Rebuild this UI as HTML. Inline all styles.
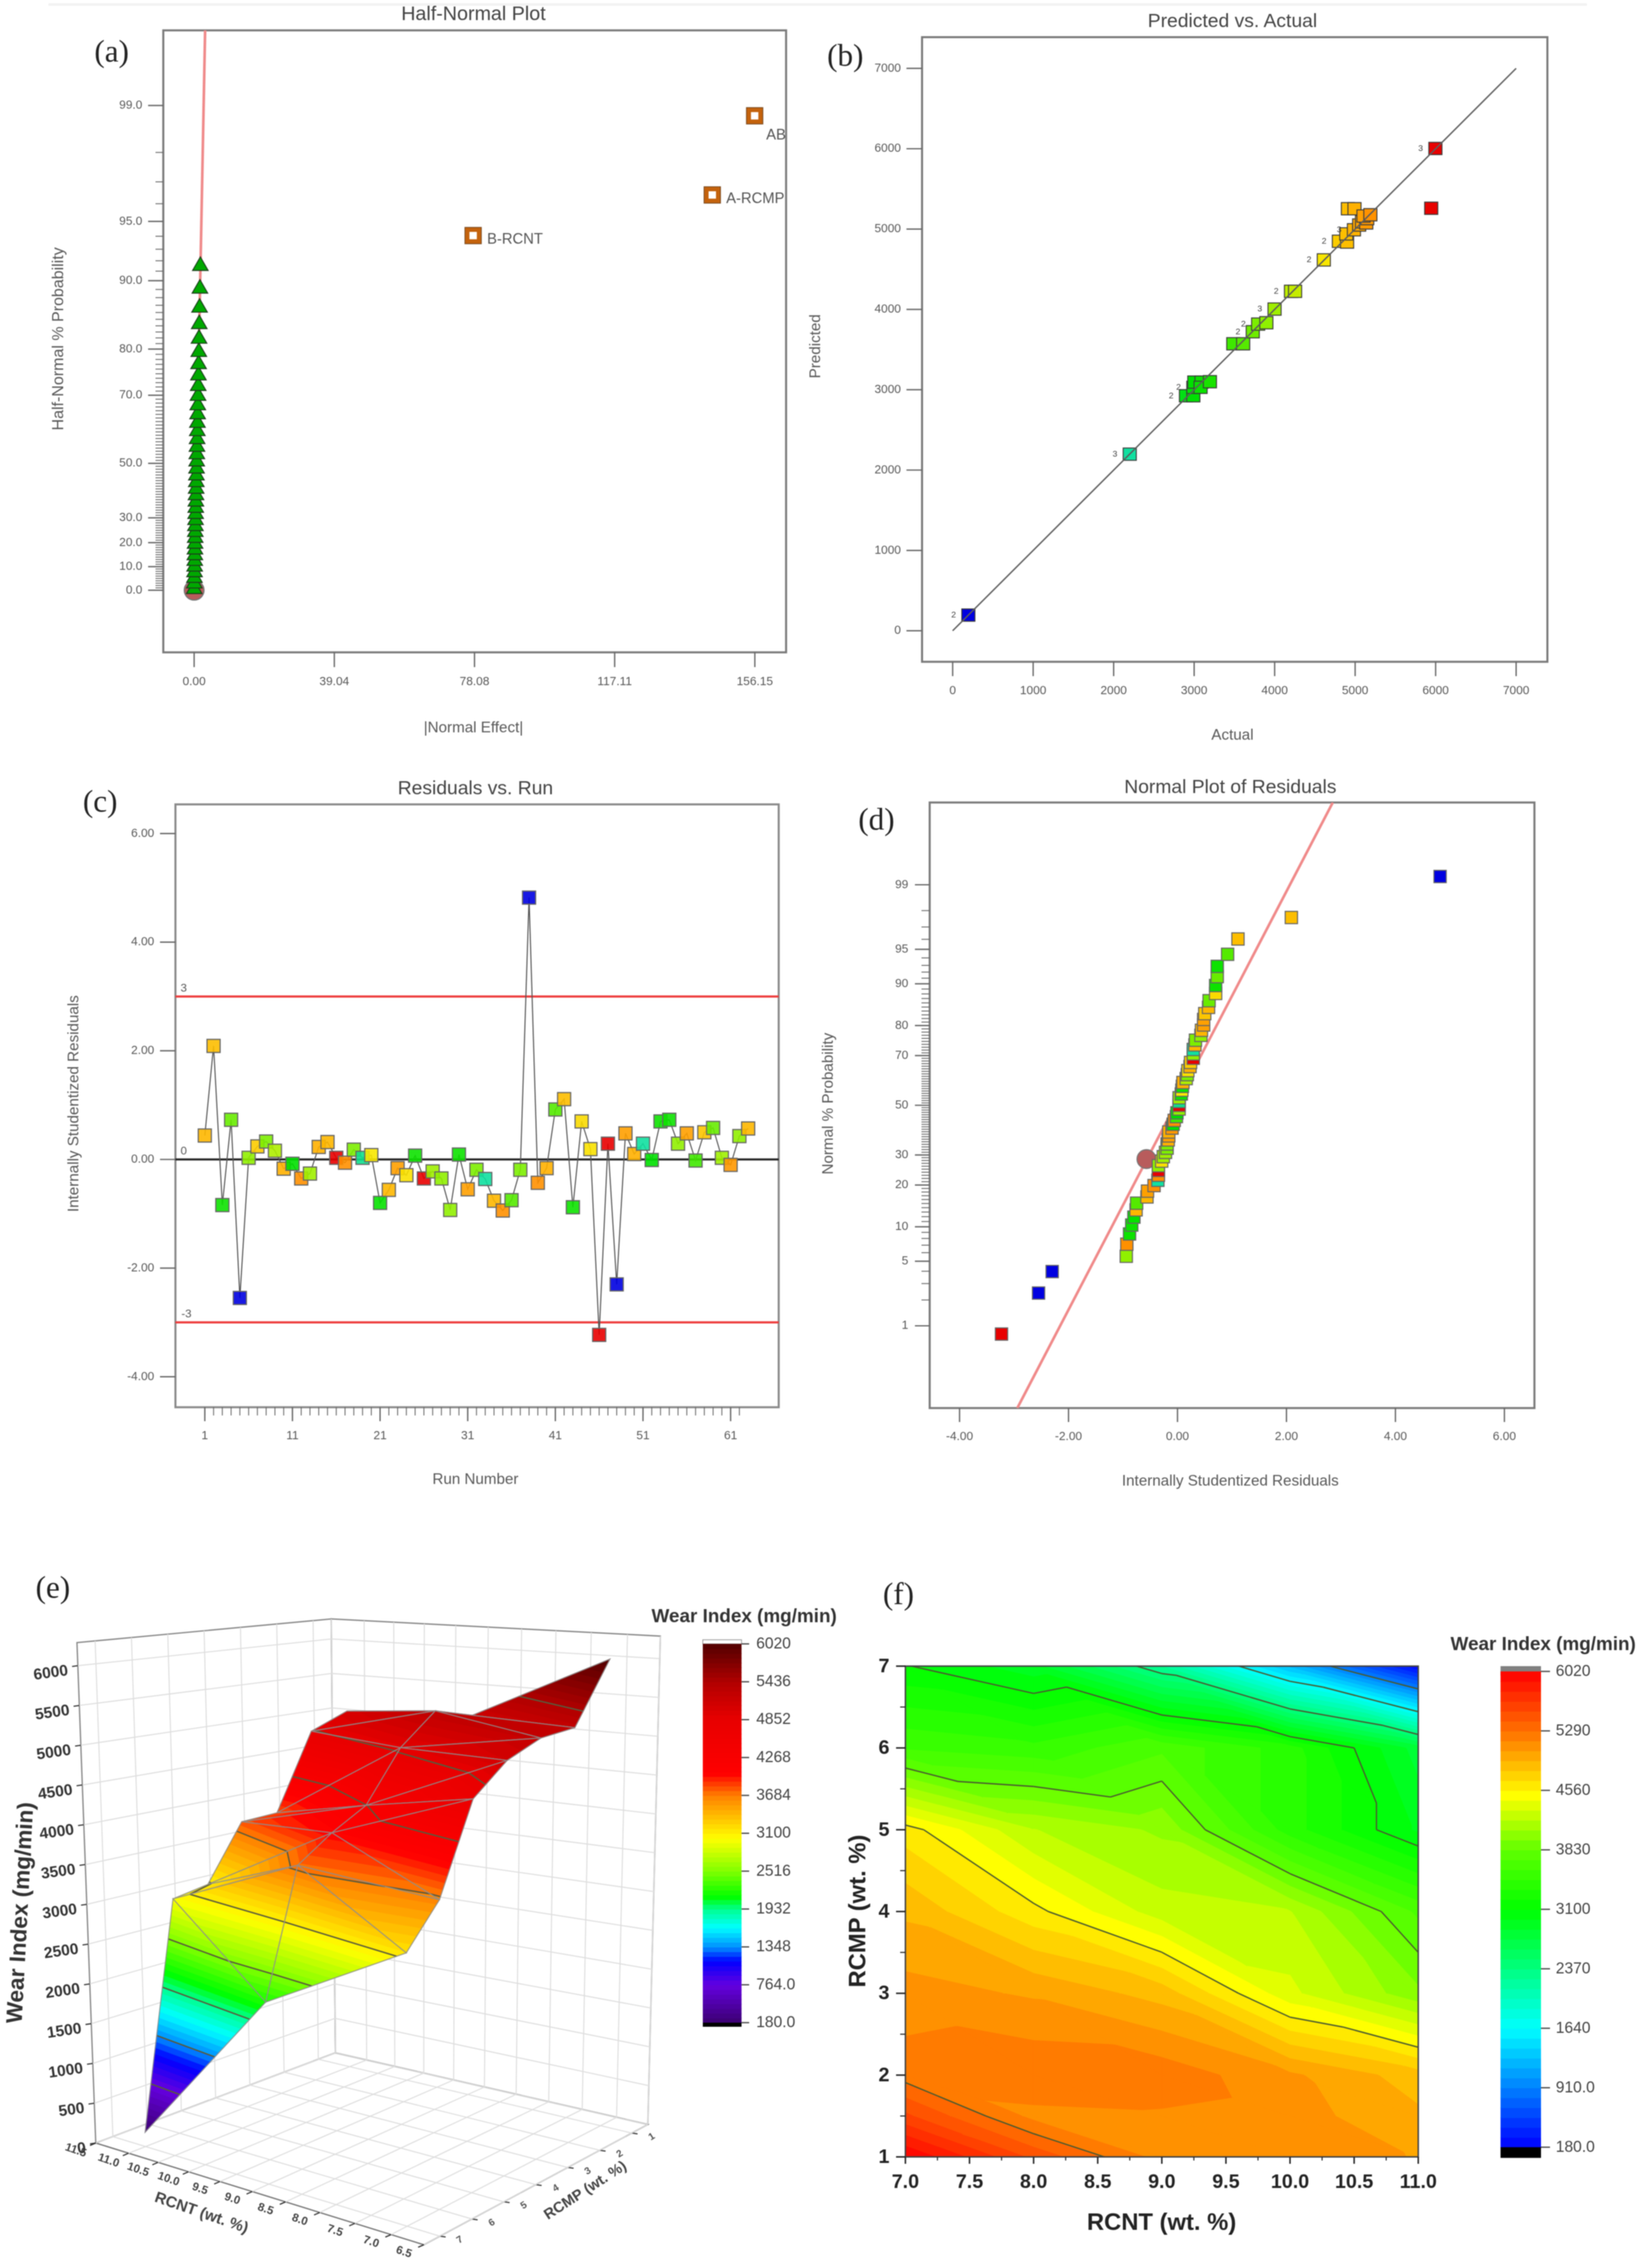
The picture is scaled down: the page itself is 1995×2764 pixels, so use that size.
<!DOCTYPE html>
<html lang="en">
<head>
<meta charset="utf-8">
<title>Wear Index Design-of-Experiments Diagnostics</title>
<style>
html,body{margin:0;padding:0;background:#fff;}
body{width:1995px;height:2764px;overflow:hidden;}
svg{display:block;filter:blur(0.55px);font-family:"Liberation Sans",sans-serif;}
</style>
</head>
<body>
<svg id="figure" xmlns="http://www.w3.org/2000/svg" width="1995" height="2764" viewBox="0 0 1995 2764">
  <defs>
    <clipPath id="clip-a"><rect x="199" y="37" width="759" height="758"/></clipPath>
    <clipPath id="clip-d"><rect x="1133" y="978" width="737" height="738"/></clipPath>
    <clipPath id="clip-f"><rect x="1103.4" y="2030.5" width="625" height="598.1"/></clipPath>
  </defs>
  <rect x="59" y="4" width="1875" height="3" fill="#f2f2f2"/>
  <g id="panel-a"></g>
  <g id="panel-b"></g>
  <g id="panel-c"></g>
  <g id="panel-d"></g>
  <g id="panel-e"></g>
  <g id="panel-f"></g>
</svg>
<script>
/* ---------- panel (a) data ---------- */
const aTickValues=[0,39.04,78.08,117.11,156.15];
const aProbTicks=[0,10,20,30,50,70,80,90,95,99];
const aErrorEffects=[0.02,0.05,0.08,0.11,0.14,0.17,0.20,0.23,0.26,0.29,0.32,0.35,0.39,0.42,0.45,0.49,0.52,0.56,0.60,0.63,0.67,0.71,0.75,0.79,0.83,0.88,0.92,0.97,1.02,1.08,1.13,1.19,1.24,1.30,1.36,1.42,1.51,1.61,1.73];
const aErrorProbs=[1.19,3.57,5.95,8.33,10.71,13.10,15.48,17.86,20.24,22.62,25.00,27.38,29.76,32.14,34.52,36.90,39.29,41.67,44.05,46.43,48.81,51.19,53.57,55.95,58.33,60.71,63.10,65.48,67.86,70.24,72.62,75.00,77.38,79.76,82.14,84.52,86.90,89.29,91.67];
const aTermNames=["B-RCNT","A-RCMP","AB"];
const aTermEffects=[77.7,144.3,156.1];
const aTermProbs=[94.05,96.43,98.83];
const aLineEffects=[0,3.06];
const aLineProbs=[0,99.71];

/* ---------- panel (b) data ---------- */
const bTicks=[0,1000,2000,3000,4000,5000,6000,7000];
const bActual=[195,2200,2898,2990,2990,3002,3092,3080,3196,3486,3609,3728,3795,3897,3999,4203,4254,4611,4798,4900,4890,4985,4910,4992,5050,5085,5138,5150,5104,5189,5945,5997];
const bPredicted=[195,2198,2925,2925,3030,3095,3095,3030,3100,3572,3572,3722,3817,3834,4004,4225,4225,4616,4848,4838,4940,4991,5253,5253,5050,5090,5076,5130,5162,5178,5259,6003];
const bCounts=[2,3,2,0,2,0,0,0,0,0,0,2,2,0,3,2,0,2,2,0,0,3,0,0,0,0,0,0,0,0,0,3];

/* ---------- panel (c) data ---------- */
const cRunTicks=[1,11,21,31,41,51,61];
const cResidualTicks=[6,4,2,0,-2,-4];
const cResiduals=[0.44,2.09,-0.84,0.73,-2.55,0.03,0.24,0.33,0.16,-0.17,-0.08,-0.35,-0.26,0.23,0.32,0.03,-0.06,0.18,0.03,0.08,-0.80,-0.56,-0.16,-0.29,0.07,-0.35,-0.22,-0.35,-0.93,0.09,-0.55,-0.19,-0.36,-0.76,-0.94,-0.75,-0.19,4.82,-0.43,-0.16,0.92,1.11,-0.88,0.70,0.19,-3.23,0.29,-2.30,0.48,0.10,0.29,-0.01,0.70,0.73,0.29,0.48,-0.02,0.50,0.58,0.03,-0.10,0.43,0.57];
const cResponse=[4950,4900,3100,3700,195,3900,4800,3800,4100,5000,3000,5200,4000,5000,4950,6000,5200,3800,2300,4600,3050,4950,5100,4650,3100,5950,4000,3900,3900,3100,5100,3800,2200,4950,5200,3600,3800,195,5200,5000,3600,4900,3100,4700,4650,5950,6000,195,5100,5000,2200,3000,3100,3100,3900,5100,3500,4850,3700,4000,5150,3900,4950];
const cLimits=[3,-3];

/* ---------- panel (d) data ---------- */
const dXTicks=[-4,-2,0,2,4,6];
const dProbTicks=[1,5,10,20,30,50,70,80,90,95,99];
const dResiduals=[-3.23,-2.55,-2.30,-0.94,-0.93,-0.88,-0.84,-0.80,-0.76,-0.75,-0.56,-0.55,-0.43,-0.36,-0.35,-0.35,-0.35,-0.29,-0.26,-0.22,-0.19,-0.19,-0.17,-0.16,-0.16,-0.10,-0.08,-0.06,-0.02,-0.01,0.03,0.03,0.03,0.03,0.07,0.08,0.09,0.10,0.16,0.18,0.19,0.23,0.24,0.29,0.29,0.29,0.32,0.33,0.43,0.44,0.48,0.48,0.50,0.57,0.58,0.70,0.70,0.73,0.73,0.92,1.11,2.09,4.82];
const dProbs=[0.79,2.38,3.97,5.56,7.14,8.73,10.32,11.90,13.49,15.08,16.67,18.25,19.84,21.43,23.02,24.60,26.19,27.78,29.37,30.95,32.54,34.13,35.71,37.30,38.89,40.48,42.06,43.65,45.24,46.83,48.41,50.00,51.59,53.17,54.76,56.35,57.94,59.52,61.11,62.70,64.29,65.87,67.46,69.05,70.63,72.22,73.81,75.40,76.98,78.57,80.16,81.75,83.33,84.92,86.51,88.10,89.68,91.27,92.86,94.44,96.03,97.62,99.21];
const dResponse=[5950,195,195,3900,5200,3100,3100,3050,4950,3600,4950,5100,5200,2200,5200,5950,3900,4650,4000,4000,3800,3800,5000,5100,5000,5150,3000,5200,3500,3000,3900,6000,2300,4000,3100,4600,3100,5000,4100,3800,4650,5000,4800,6000,3900,2200,4950,3800,3900,4950,5100,5100,4850,4950,3700,4700,3100,3700,3100,3600,4900,4900,195];
const dLineResiduals=[-2.94,2.85];
const dLineProbs=[0.07,99.93];
const dCentroidResidual=[-0.57];
const dCentroidProb=[28.5];

/* ---------- panel (e) data: wear index by RCMP 1..7, one row per RCNT ---------- */
const eRCNT=[7,9,11];
const eRCMP=[1,2,3,4,5,6,7];
const eWear7=[6020,5252,5236,5073,4723,3651,3167];
const eWear9=[5122,5290,4902,4264,4028,3737,2198];
const eWear11=[5036,4837,3811,3793,3074,3000,180];
const eZTicks=[0,500,1000,1500,2000,2500,3000,3500,4000,4500,5000,5500,6000];
const eRCNTTicks=[6.5,7,7.5,8,8.5,9,9.5,10,10.5,11,11.5];
const eRCMPTicks=[1,2,3,4,5,6,7];
const eBarTicks=[6020,5436,4852,4268,3684,3100,2516,1932,1348,764,180];
const eBarLabels=["6020","5436","4852","4268","3684","3100","2516","1932","1348","764.0","180.0"];

/* ---------- panel (f) data: wear index by RCMP, one row per RCNT ---------- */
const fRCNT=[7,8,9,10,11];
const fRCMP=[1,1.5,2,3,4,5,6,7];
const fWear7=[6020,5560,5230,5100,4900,4620,3573,3110];
const fWear8=[5500,5130,5270,5030,4600,4200,3500,2900];
const fWear9=[5120,5150,5250,4873,4250,4050,3680,2240];
const fWear10=[5110,5100,5070,4350,4200,3400,3400,1240];
const fWear11=[5040,4950,4860,3980,3680,2955,2800,180];
const fXTicks=[7,7.5,8,8.5,9,9.5,10,10.5,11];
const fYTicks=[1,2,3,4,5,6,7];
const fBarTicks=[6020,5290,4560,3830,3100,2370,1640,910,180];
const fBarLabels=["6020","5290","4560","3830","3100","2370","1640","910.0","180.0"];

/* ---------- helpers ---------- */
const NS="http://www.w3.org/2000/svg";
function draw(parent,tag,attrs,name,text){
  const el=document.createElementNS(NS,tag);
  for(const k in attrs) el.setAttribute(k,attrs[k]);
  
  
  if(text!==undefined) el.textContent=text;
  parent.appendChild(el);
  return el;
}
function line(p,x1,y1,x2,y2,stroke,w,name){return draw(p,'line',{x1,y1,x2,y2,stroke,'stroke-width':w},name);}
function label(p,x,y,str,size,fill,anchor,name,extra){
  const a=Object.assign({x,y,'font-size':size,fill,'text-anchor':anchor||'middle','dominant-baseline':'central'},extra||{});
  return draw(p,'text',a,name,str);
}
function panelTag(p,x,y,str){
  return label(p,x,y,str,38,'#222','start','panel-label',{'font-family':'"Liberation Serif",serif'});
}
function probit(q){
  const s=q<0.5?q:1-q;
  const t=Math.sqrt(-2*Math.log(s));
  const z=t-(2.515517+0.802853*t+0.010328*t*t)/(1+1.432788*t+0.189269*t*t+0.001308*t*t*t);
  return q<0.5?-z:z;
}
function hex(c){return [parseInt(c.slice(1,3),16),parseInt(c.slice(3,5),16),parseInt(c.slice(5,7),16)];}
function ramp(levels,colors,v){
  if(v<=levels[0]) return colors[0];
  for(let i=1;i<levels.length;i++){
    if(v<=levels[i]){
      const t=(v-levels[i-1])/(levels[i]-levels[i-1]);
      const a=hex(colors[i-1]),b=hex(colors[i]);
      return 'rgb('+a.map((c,j)=>Math.round(c+(b[j]-c)*t)).join(',')+')';
    }
  }
  return colors[colors.length-1];
}
const markerStops=[195,1500,2200,3000,3500,3900,4600,5000,5200,5950];
const markerColors=['#0000e0','#0090f0','#10e0a0','#00e000','#40e800','#90f000','#f8e800','#ffb000','#ff9000','#e80000'];
function markerColor(v){return ramp(markerStops,markerColors,v);}
const eStops=[180,764,1130,1348,1650,1932,2120,2516,3020,3684,4020,4852,5436,6020];
const eColors=['#3c0070','#6400e0','#0000ff','#0090ff','#00ffff','#00ff90','#00ff00','#80ff00','#ffff00','#ff8000','#ff0000','#e80000','#b00000','#520000'];
function eColor(v){return ramp(eStops,eColors,v);}
const fStops=[180,910,1640,2370,3100,3830,4500,5290,6020];
const fColors=['#0000ff','#0080ff','#00ffff','#00ff80','#00ff00','#60ff00','#ffff00','#ff7000','#ff0000'];
function fColor(v){return ramp(fStops,fColors,v);}

/* clip a polygon of {x,y,z} against z>=level (sign 1) or z<=level (sign -1) */
function clipZ(poly,level,sign){
  const out=[];
  for(let i=0;i<poly.length;i++){
    const a=poly[i],b=poly[(i+1)%poly.length];
    const ia=(a.z-level)*sign>=0,ib=(b.z-level)*sign>=0;
    if(ia) out.push(a);
    if(ia!==ib){
      const t=(level-a.z)/(b.z-a.z);
      out.push({x:a.x+(b.x-a.x)*t,y:a.y+(b.y-a.y)*t,z:level});
    }
  }
  return out;
}
function fillBands(parent,tri,step,lo,hi,colorFn,name){
  for(let l=lo;l<hi;l+=step){
    const top=Math.min(l+step,hi+1);
    const p=clipZ(clipZ(tri,l,1),top,-1);
    if(p.length<3) continue;
    const c=colorFn(l+step/2);
    draw(parent,'polygon',{points:p.map(q=>q.x.toFixed(1)+','+q.y.toFixed(1)).join(' '),fill:c,stroke:c,'stroke-width':0.7},name);
  }
}
function contourSeg(parent,tri,level,stroke,w,name){
  const pts=[];
  for(let i=0;i<3;i++){
    const a=tri[i],b=tri[(i+1)%3];
    if((a.z-level)*(b.z-level)<0){
      const t=(level-a.z)/(b.z-a.z);
      pts.push({x:a.x+(b.x-a.x)*t,y:a.y+(b.y-a.y)*t});
    }
  }
  if(pts.length===2) line(parent,pts[0].x,pts[0].y,pts[1].x,pts[1].y,stroke,w,name);
}
const frameColor='#7a7a7a',tickColor='#666',textColor='#5a5a5a';

/* ---------- panel (a) ---------- */
(function(){
  const g=document.getElementById('panel-a');
  const aX=v=>236.6+v*4.376;
  const aY=p=>719.3-229.3*probit((1+p/100)/2);
  draw(g,'rect',{x:199,y:37,width:759,height:758,fill:'#fff',stroke:frameColor,'stroke-width':2.5},'plot-frame');
  label(g,577,17,'Half-Normal Plot',24,'#444','middle','chart-title');
  panelTag(g,115,63,'(a)');
  aTickValues.forEach(v=>{
    line(g,aX(v),795,aX(v),813,tickColor,1.6,'x-tick');
    label(g,aX(v),831,v.toFixed(2),14.5,textColor,'middle','x-tick-label');
  });
  for(let p=0;p<=98;p++){
    line(g,189.5,aY(p),199,aY(p),tickColor,1.1,'y-minor-tick');
  }
  aProbTicks.forEach(p=>{
    line(g,180.5,aY(p),199,aY(p),tickColor,1.6,'y-tick');
    label(g,173.5,aY(p),p.toFixed(1),14.5,textColor,'end','y-tick-label');
  });
  label(g,577,886,'|Normal Effect|',18.5,textColor,'middle','x-axis-title');
  label(g,71,413,'Half-Normal % Probability',19.5,textColor,'middle','y-axis-title',{transform:'rotate(-90 71 413)'});
  draw(g,'line',{x1:aX(aLineEffects[0]),y1:aY(aLineProbs[0]),x2:aX(aLineEffects[1]),y2:aY(aLineProbs[1]),stroke:'#f08a8a','stroke-width':3.2,'clip-path':'url(#clip-a)'},'fit-line');
  draw(g,'circle',{cx:aX(0),cy:aY(0),r:12,fill:'#b85c5c',stroke:'#777','stroke-width':1.5},'centroid-marker');
  aErrorEffects.forEach((e,i)=>{
    const x=aX(e),y=aY(aErrorProbs[i]);
    draw(g,'polygon',{points:(x-9.5)+','+(y+7.5)+' '+(x+9.5)+','+(y+7.5)+' '+x+','+(y-9)+'',fill:'#00a800',stroke:'#1c3c1c','stroke-width':1.2},'error-term-triangle');
  });
  aTermNames.forEach((n,i)=>{
    const x=aX(aTermEffects[i]),y=aY(aTermProbs[i]);
    draw(g,'rect',{x:x-10,y:y-10,width:20,height:20,fill:'#c4620c',stroke:'#7a4a20','stroke-width':1},'term-square');
    draw(g,'rect',{x:x-4.5,y:y-4.5,width:9,height:9,fill:'#fff'},'term-square-center');
    const long=n==='AB';
    label(g,long?x+14:x+17,long?y+23:y+4,n,18,'#555','start','term-label');
  });
})();

/* ---------- panel (b) ---------- */
(function(){
  const g=document.getElementById('panel-b');
  const bX=v=>1161+v*0.0981;
  const bY=v=>768.7-v*0.09791;
  draw(g,'rect',{x:1123.7,y:45.3,width:762.1,height:761.2,fill:'#fff',stroke:frameColor,'stroke-width':2.5},'plot-frame');
  label(g,1502,25,'Predicted vs. Actual',23.5,'#444','middle','chart-title');
  panelTag(g,1008,68,'(b)');
  bTicks.forEach(v=>{
    line(g,bX(v),806.5,bX(v),824,tickColor,1.6,'x-tick');
    label(g,bX(v),842,String(v),14.5,textColor,'middle','x-tick-label');
    line(g,1104.7,bY(v),1123.7,bY(v),tickColor,1.6,'y-tick');
    label(g,1098,bY(v),String(v),14.5,textColor,'end','y-tick-label');
  });
  label(g,1502,895,'Actual',18.5,textColor,'middle','x-axis-title');
  label(g,993,422,'Predicted',18.5,textColor,'middle','y-axis-title',{transform:'rotate(-90 993 422)'});
  bActual.forEach((a,i)=>{
    const x=bX(a),y=bY(bPredicted[i]);
    draw(g,'rect',{x:x-8,y:y-7.5,width:16,height:15,fill:markerColor(a),stroke:'#3c3c3c','stroke-width':1.2},'run-square');
    if(bCounts[i]>0){
      label(g,x-18,y,String(bCounts[i]),10.5,'#444','middle','run-count-label');
    }
  });
  line(g,bX(0),bY(0),bX(7000),bY(7000),'#5c5c5c',1.7,'identity-line');
})();

/* ---------- panel (c) ---------- */
(function(){
  const g=document.getElementById('panel-c');
  const cX=r=>249.6+(r-1)*10.68;
  const cY=v=>1413-v*66.2;
  draw(g,'rect',{x:213.8,y:980.3,width:735.2,height:734.7,fill:'#fff',stroke:'#8a8a8a','stroke-width':2.5},'plot-frame');
  label(g,579.4,960,'Residuals vs. Run',23.5,'#444','middle','chart-title');
  panelTag(g,101,977,'(c)');
  for(let r=1;r<=62;r++){
    line(g,cX(r),1715,cX(r),1725,tickColor,1.1,'x-minor-tick');
  }
  cRunTicks.forEach(r=>{
    line(g,cX(r),1715,cX(r),1732,tickColor,1.6,'x-tick');
    label(g,cX(r),1750,String(r),14.5,textColor,'middle','x-tick-label');
  });
  cResidualTicks.forEach(v=>{
    line(g,195,cY(v),213.8,cY(v),tickColor,1.6,'y-tick');
    label(g,188,cY(v),v.toFixed(2),14.5,textColor,'end','y-tick-label');
  });
  label(g,579.4,1802,'Run Number',18.5,textColor,'middle','x-axis-title');
  label(g,89,1345,'Internally Studentized Residuals',18.5,textColor,'middle','y-axis-title',{transform:'rotate(-90 89 1345)'});
  cLimits.forEach(v=>{
    line(g,213.8,cY(v),949,cY(v),'#ee3b3b',2.6,'control-limit-line');
    label(g,v>0?220:221,cY(v)-11,String(v),14,textColor,'start','control-limit-label');
  });
  line(g,213.8,cY(0),949,cY(0),'#222',2.6,'zero-line');
  label(g,220,cY(0)-11,'0',14,textColor,'start','zero-line-label');
  draw(g,'polyline',{points:cResiduals.map((v,i)=>cX(i+1)+','+cY(v)).join(' '),fill:'none',stroke:'#555','stroke-width':1.3},'residual-trace');
  cResiduals.forEach((v,i)=>{
    const x=cX(i+1),y=cY(v);
    draw(g,'rect',{x:x-8,y:y-8,width:16,height:16,fill:markerColor(cResponse[i]),stroke:'#666','stroke-width':1.4,'fill-opacity':0.9},'residual-square');
  });
})();

/* ---------- panel (d) ---------- */
(function(){
  const g=document.getElementById('panel-d');
  const dX=v=>1435+v*66.4;
  const dY=p=>1347-115.5*probit(p/100);
  draw(g,'rect',{x:1133,y:978,width:737,height:738,fill:'#fff',stroke:frameColor,'stroke-width':2.5},'plot-frame');
  label(g,1499.4,958.5,'Normal Plot of Residuals',23.5,'#444','middle','chart-title');
  panelTag(g,1046,999,'(d)');
  dXTicks.forEach(v=>{
    line(g,dX(v),1716,dX(v),1733,tickColor,1.6,'x-tick');
    label(g,dX(v),1751,v.toFixed(2),14.5,textColor,'middle','x-tick-label');
  });
  for(let p=1;p<=98;p++){
    line(g,1123,dY(p),1133,dY(p),tickColor,1.1,'y-minor-tick');
  }
  dProbTicks.forEach(p=>{
    line(g,1115,dY(p),1133,dY(p),tickColor,1.6,'y-tick');
    label(g,1107,dY(p),String(p),14.5,textColor,'end','y-tick-label');
  });
  label(g,1499.4,1804,'Internally Studentized Residuals',18.5,textColor,'middle','x-axis-title');
  label(g,1008.6,1345,'Normal % Probability',18.5,textColor,'middle','y-axis-title',{transform:'rotate(-90 1008.6 1345)'});
  draw(g,'line',{x1:dX(dLineResiduals[0]),y1:dY(dLineProbs[0]),x2:dX(dLineResiduals[1]),y2:dY(dLineProbs[1]),stroke:'#f08a8a','stroke-width':3.2,'clip-path':'url(#clip-d)'},'fit-line');
  draw(g,'circle',{cx:dX(dCentroidResidual[0]),cy:dY(dCentroidProb[0]),r:11.5,fill:'#b85c5c',stroke:'#777','stroke-width':1.3},'centroid-marker');
  dResiduals.forEach((v,i)=>{
    const x=dX(v),y=dY(dProbs[i]);
    draw(g,'rect',{x:x-7.5,y:y-7.5,width:15,height:15,fill:markerColor(dResponse[i]),stroke:'#666','stroke-width':1.3},'probability-square');
  });
})();

/* ---------- panel (e) ---------- */
(function(){
  const g=document.getElementById('panel-e');
  const eRows=[eWear7,eWear9,eWear11];
  const bF=[516.6,2735.7],bL=[116.7,2611.7],bR=[789.5,2589.1],bB=[408.8,2501.8];
  const tF=[515.3,2062.1],tL=[93.8,2001.8],tR=[804.8,1993.9],tB=[403.7,1973];
  function bilin(F,L,R,B,u,v,k){return (1-u)*(1-v)*F[k]+u*(1-v)*L[k]+(1-u)*v*R[k]+u*v*B[k];}
  const uOf=n=>{const u=(n-6.5)/5;return (u>=0.1&&u<=0.9)?u+0.144*(u-0.1)*(0.9-u):u;};
  const vOf=m=>(7.5-m)/7, wOf=z=>z/6290;
  function P(u,v,w){
    const x0=bilin(bF,bL,bR,bB,u,v,0),y0=bilin(bF,bL,bR,bB,u,v,1);
    const x1=bilin(tF,tL,tR,tB,u,v,0),y1=bilin(tF,tL,tR,tB,u,v,1);
    return {x:x0+(x1-x0)*w,y:y0+(y1-y0)*w};
  }
  function pt(p){return p.x.toFixed(1)+','+p.y.toFixed(1);}
  panelTag(g,43.4,1935,'(e)');
  const grid='#dedede';
  /* walls and floor */
  draw(g,'polygon',{points:[P(1,0,0),P(1,0,1),P(1,1,1),P(1,1,0)].map(pt).join(' '),fill:'#fff',stroke:'#888','stroke-width':1.6},'left-wall');
  draw(g,'polygon',{points:[P(1,1,0),P(1,1,1),P(0,1,1),P(0,1,0)].map(pt).join(' '),fill:'#fff',stroke:'#888','stroke-width':1.6},'right-wall');
  draw(g,'polygon',{points:[P(1,0,0),P(0,0,0),P(0,1,0),P(1,1,0)].map(pt).join(' '),fill:'#fff',stroke:'#777','stroke-width':1.6},'floor');
  eZTicks.forEach(z=>{
    const w=wOf(z);
    let a=P(1,0,w),b=P(1,1,w),c=P(0,1,w);
    line(g,a.x,a.y,b.x,b.y,grid,1.3,'left-wall-gridline');
    line(g,b.x,b.y,c.x,c.y,grid,1.3,'right-wall-gridline');
  });
  eRCMPTicks.forEach(m=>{
    const v=vOf(m);
    let a=P(1,v,0),b=P(1,v,1),c=P(0,v,0);
    line(g,a.x,a.y,b.x,b.y,grid,1.3,'left-wall-gridline');
    line(g,a.x,a.y,c.x,c.y,grid,1.3,'floor-gridline');
    const t=P(0,v,0);
    line(g,t.x,t.y,t.x+7,t.y+1,'#333',1.4,'rcmp-tick');
    label(g,t.x+24,t.y+4,String(m),12,'#555','middle','rcmp-tick-label',{'font-weight':'bold',transform:'rotate(-32 '+(t.x+24)+' '+(t.y+4)+')'});
  });
  eRCNTTicks.forEach(n=>{
    const u=uOf(n);
    let a=P(u,1,0),b=P(u,1,1),c=P(u,0,0);
    line(g,a.x,a.y,b.x,b.y,grid,1.3,'right-wall-gridline');
    line(g,a.x,a.y,c.x,c.y,grid,1.3,'floor-gridline');
    line(g,c.x,c.y,c.x-7,c.y+3,'#333',1.4,'rcnt-tick');
    label(g,c.x-24,c.y+8,n.toFixed(1),14,'#444','middle','rcnt-tick-label',{'font-weight':'bold',transform:'rotate(19 '+(c.x-24)+' '+(c.y+8)+')'});
  });
  eZTicks.forEach(z=>{
    const a=P(1,0,wOf(z));
    line(g,a.x,a.y,a.x-7,a.y+1,'#333',1.4,'z-tick');
    label(g,a.x-12,a.y+6,String(z),19,'#333','end','z-tick-label',{'font-weight':'bold',transform:'rotate(-8 '+(a.x-12)+' '+(a.y+6)+')'});
  });
  /* triangulated surface, far triangles first */
  const S=draw(g,'g',{},'surface');
  function V(i,j){
    const p=P(uOf(eRCNT[i]),vOf(eRCMP[j]),wOf(eRows[i][j]));
    return {x:p.x,y:p.y,z:eRows[i][j]};
  }
  const tris=[];
  for(let i=eRCNT.length-2;i>=0;i--){
    for(let j=0;j<eRCMP.length-1;j++){
      const a=V(i+1,j),b=V(i+1,j+1),c=V(i,j),d=V(i,j+1);
      tris.push([a,c,d]);
      tris.push([a,b,d]);
    }
  }
  tris.forEach(t=>{
    fillBands(S,t,73,180,6020,eColor,'surface-band');
    eBarTicks.forEach(l=>{contourSeg(S,t,l,'#5a5a3c',1.7,'surface-contour-line');});
    draw(S,'polygon',{points:t.map(pt).join(' '),fill:'none',stroke:'#8e8e8e','stroke-width':1.3,'stroke-opacity':0.85},'surface-mesh-triangle');
  });
  label(g,24,2331,'Wear Index (mg/min)',27.5,'#333','middle','z-axis-title',{'font-weight':'bold',transform:'rotate(-87 24 2331)'});
  label(g,245.5,2697,'RCNT (wt. %)',19,'#444','middle','rcnt-axis-title',{'font-weight':'bold',transform:'rotate(19 245.5 2697)'});
  label(g,713,2669,'RCMP (wt. %)',18,'#444','middle','rcmp-axis-title',{'font-weight':'bold',transform:'rotate(-33 713 2669)'});
  /* colour bar */
  const barY=v=>2465-(v-180)*0.07904;
  draw(g,'rect',{x:856.5,y:1998.4,width:47.2,height:5,fill:'#fff',stroke:'#999','stroke-width':1},'colorbar-top-cap');
  for(let v=180;v<6020;v+=73){
    const c=eColor(v+36);
    draw(g,'rect',{x:856.5,y:barY(v+73),width:47.2,height:barY(v)-barY(v+73)+0.6,fill:c},'colorbar-band');
  }
  draw(g,'rect',{x:856.5,y:2465,width:47.2,height:5,fill:'#000'},'colorbar-bottom-cap');
  eBarTicks.forEach((v,i)=>{
    line(g,903.7,barY(v),913,barY(v),'#444',1.5,'colorbar-tick');
    label(g,921.6,barY(v),eBarLabels[i],19,'#444','start','colorbar-tick-label');
  });
  label(g,794,1969,'Wear Index (mg/min)',23,'#333','start','colorbar-title',{'font-weight':'bold'});
})();

/* ---------- panel (f) ---------- */
(function(){
  const g=document.getElementById('panel-f');
  const fRows=[fWear7,fWear8,fWear9,fWear10,fWear11];
  const fX=v=>1103.4+(v-7)*156.25;
  const fY=v=>2628.6-(v-1)*99.68;
  panelTag(g,1076,1943,'(f)');
  const S=draw(g,'g',{'clip-path':'url(#clip-f)'},'contour-fill');
  function V(i,j){return {x:fX(fRCNT[i]),y:fY(fRCMP[j]),z:fRows[i][j]};}
  const tris=[];
  for(let i=0;i<fRCNT.length-1;i++){
    for(let j=0;j<fRCMP.length-1;j++){
      tris.push([V(i,j),V(i+1,j),V(i,j+1)]);
      tris.push([V(i+1,j),V(i+1,j+1),V(i,j+1)]);
    }
  }
  const bandStep=(6020-180)/48;
  tris.forEach(t=>{fillBands(S,t,bandStep,180,6020,fColor,'contour-band');});
  tris.forEach(t=>{
    fBarTicks.forEach(l=>{contourSeg(S,t,l,'#4a5a30',1.6,'contour-line');});
  });
  draw(g,'rect',{x:1103.4,y:2030.5,width:625,height:598.1,fill:'none',stroke:'#444','stroke-width':1.8},'plot-frame');
  fXTicks.forEach(v=>{
    line(g,fX(v),2628.6,fX(v),2637,'#222',1.8,'x-tick');
    label(g,fX(v),2659,v.toFixed(1),24,'#222','middle','x-tick-label',{'font-weight':'bold'});
    if(v<11){
      line(g,fX(v+0.25),2628.6,fX(v+0.25),2633,'#222',1.3,'x-minor-tick');
    }
  });
  fYTicks.forEach(v=>{
    line(g,1092,fY(v),1103.4,fY(v),'#222',1.8,'y-tick');
    label(g,1084,fY(v),String(v),24,'#222','end','y-tick-label',{'font-weight':'bold'});
    if(v<7){
      line(g,1097,fY(v+0.5),1103.4,fY(v+0.5),'#222',1.3,'y-minor-tick');
    }
  });
  label(g,1415.6,2708.6,'RCNT (wt. %)',29,'#222','middle','x-axis-title',{'font-weight':'bold'});
  label(g,1045.7,2329,'RCMP (wt. %)',29,'#222','middle','y-axis-title',{'font-weight':'bold',transform:'rotate(-90 1045.7 2329)'});
  /* colour bar */
  const barY=v=>2616.8-(v-180)*0.09929;
  draw(g,'rect',{x:1828.7,y:2030.5,width:49.3,height:11.5,fill:'#808080'},'colorbar-top-cap');
  for(let v=180;v<6020;v+=bandStep){
    const c=fColor(v+bandStep/2);
    draw(g,'rect',{x:1828.7,y:barY(v+bandStep),width:49.3,height:barY(v)-barY(v+bandStep)+0.6,fill:c},'colorbar-band');
  }
  draw(g,'rect',{x:1828.7,y:2616.8,width:49.3,height:13,fill:'#000'},'colorbar-bottom-cap');
  fBarTicks.forEach((v,i)=>{
    line(g,1878,barY(v),1889,barY(v),'#444',1.5,'colorbar-tick');
    label(g,1896,barY(v),fBarLabels[i],19,'#444','start','colorbar-tick-label');
  });
  label(g,1767.8,2003,'Wear Index (mg/min)',23,'#333','start','colorbar-title',{'font-weight':'bold'});
})();
</script>
</body>
</html>
